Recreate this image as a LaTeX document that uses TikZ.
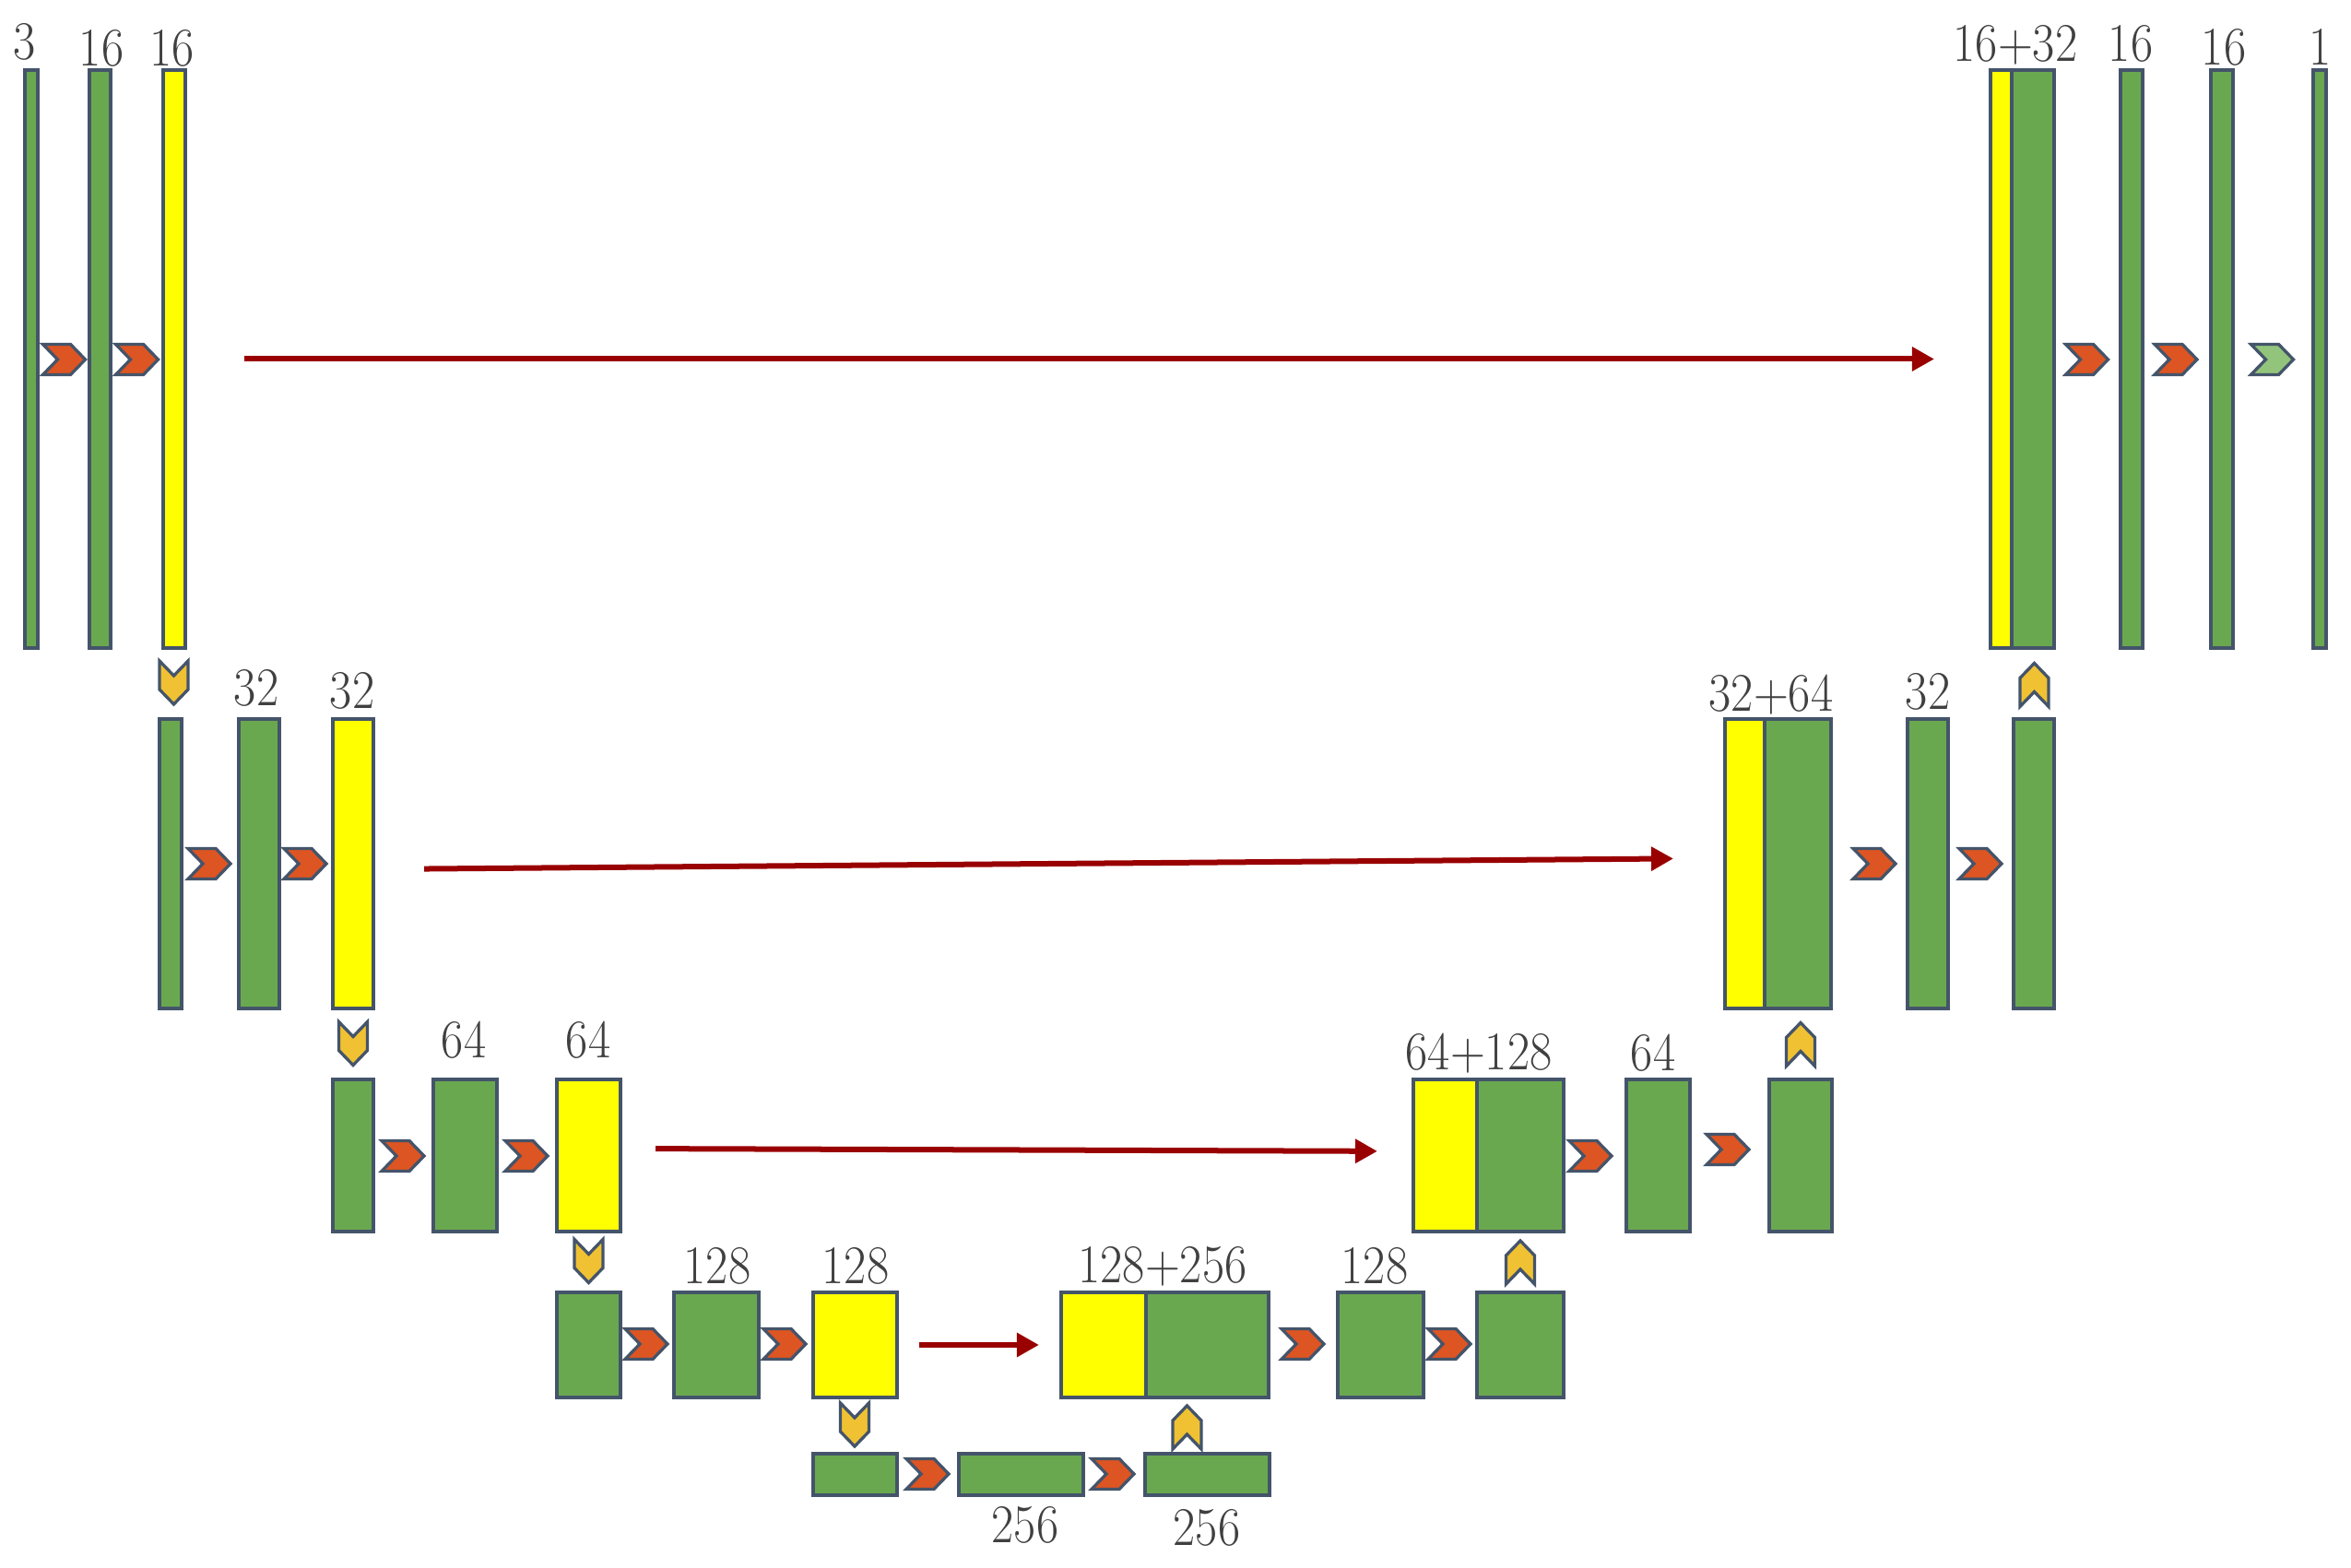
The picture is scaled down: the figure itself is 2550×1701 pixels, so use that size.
\documentclass[tikz,border=0pt]{standalone}
\usetikzlibrary{arrows.meta}
\definecolor{bargreen}{HTML}{6AA84F}
\definecolor{baryellow}{HTML}{FFFF00}
\definecolor{edgecol}{HTML}{44546A}
\definecolor{convorange}{HTML}{DD5522}
\definecolor{poolgold}{HTML}{F0C132}
\definecolor{outgreen}{HTML}{92C47C}
\definecolor{skipred}{HTML}{990000}
\definecolor{txtcol}{HTML}{404040}
\tikzset{
  barbox/.style={draw=edgecol, line width=0.033cm, inner sep=0pt, outer sep=0pt, rectangle},
  gbar/.style={barbox, fill=bargreen},
  ybar/.style={barbox, fill=baryellow},
  skiparrow/.style={draw=skipred, line width=0.06cm, -{Triangle[length=0.24cm,width=0.25cm]}},
  lbl/.style={text=txtcol, inner sep=0pt, anchor=base, font=\fontsize{16.8}{20}\selectfont},
  chev/.style={draw=edgecol, line width=0.033cm, line join=miter},
  chevR/.pic={\path[chev,pic actions] (-23,-16.5) -- (7,-16.5) -- (23,0) -- (7,16.5) -- (-23,16.5) -- (-7,0) -- cycle;},
  chevD/.pic={\path[chev,pic actions] (-15.5,-23.5) -- (0,-7.5) -- (15.5,-23.5) -- (15.5,7.5) -- (0,23.5) -- (-15.5,7.5) -- cycle;},
  chevU/.pic={\path[chev,pic actions] (-15.5,23.5) -- (0,7.5) -- (15.5,23.5) -- (15.5,-7.5) -- (0,-23.5) -- (-15.5,-7.5) -- cycle;},
}
\newcommand\blk[6]{\node[#6, minimum width={0.01cm*(#4-#2)}, minimum height={0.01cm*(#5-#3)}] (#1) at ({(#2+#4)/2},{(#3+#5)/2}) {};}
\newcommand\lab[4]{\node[lbl] (#1) at (#2,#3) {\scalebox{0.89}[1]{#4}};}
\begin{document}
\begin{tikzpicture}[x=0.01cm,y=-0.01cm]
\useasboundingbox (0,0) rectangle (2550,1701);
% ---------- row 1 ----------
\blk{A1}{27}{76}{41}{703}{gbar}
\blk{A2}{97}{76}{120}{703}{gbar}
\blk{A3}{177}{76}{201}{703}{ybar}
\blk{Ly}{2159}{76}{2182}{703}{ybar}
\blk{Lg}{2182}{76}{2228}{703}{gbar}
\blk{M1}{2300}{76}{2324}{703}{gbar}
\blk{M2}{2398}{76}{2422}{703}{gbar}
\blk{M3}{2509}{76}{2523}{703}{gbar}
% ---------- row 2 ----------
\blk{B1}{173}{780}{197}{1094}{gbar}
\blk{B2}{259}{780}{303}{1094}{gbar}
\blk{B3}{361}{780}{405}{1094}{ybar}
\blk{Jy}{1871}{780}{1914}{1094}{ybar}
\blk{Jg}{1914}{780}{1986}{1094}{gbar}
\blk{K1}{2069}{780}{2113}{1094}{gbar}
\blk{K2}{2184}{780}{2228}{1094}{gbar}
% ---------- row 3 ----------
\blk{C1}{361}{1171}{405}{1336}{gbar}
\blk{C2}{470}{1171}{539}{1336}{gbar}
\blk{C3}{604}{1171}{673}{1336}{ybar}
\blk{Hy}{1533}{1171}{1602}{1336}{ybar}
\blk{Hg}{1602}{1171}{1696}{1336}{gbar}
\blk{I1}{1764}{1171}{1833}{1336}{gbar}
\blk{I2}{1919}{1171}{1987}{1336}{gbar}
% ---------- row 4 ----------
\blk{D1}{604}{1402}{673}{1516}{gbar}
\blk{D2}{731}{1402}{823}{1516}{gbar}
\blk{D3}{882}{1402}{973}{1516}{ybar}
\blk{Fy}{1151}{1402}{1243}{1516}{ybar}
\blk{Fg}{1243}{1402}{1376}{1516}{gbar}
\blk{G1}{1451}{1402}{1544}{1516}{gbar}
\blk{G2}{1602}{1402}{1696}{1516}{gbar}
% ---------- row 5 ----------
\blk{E1}{882}{1577}{973}{1622}{gbar}
\blk{E2}{1040}{1577}{1175}{1622}{gbar}
\blk{E3}{1242}{1577}{1377}{1622}{gbar}
% ---------- conv chevrons ----------
\pic[fill=convorange] at (69.5,390) {chevR};
\pic[fill=convorange] at (148.5,390) {chevR};
\pic[fill=convorange] at (2263.5,390) {chevR};
\pic[fill=convorange] at (2360,390) {chevR};
\pic[fill=outgreen] at (2464.5,390) {chevR};
\pic[fill=convorange] at (227,937) {chevR};
\pic[fill=convorange] at (331,937) {chevR};
\pic[fill=convorange] at (2033,937) {chevR};
\pic[fill=convorange] at (2148,937) {chevR};
\pic[fill=convorange] at (437,1254) {chevR};
\pic[fill=convorange] at (571,1254) {chevR};
\pic[fill=convorange] at (1725,1254) {chevR};
\pic[fill=convorange] at (1874,1247) {chevR};
\pic[fill=convorange] at (701,1458) {chevR};
\pic[fill=convorange] at (851,1458) {chevR};
\pic[fill=convorange] at (1413,1458) {chevR};
\pic[fill=convorange] at (1572,1458) {chevR};
\pic[fill=convorange] at (1006,1599) {chevR};
\pic[fill=convorange] at (1207,1599) {chevR};
% ---------- pooling / upsampling chevrons ----------
\pic[fill=poolgold] at (188.5,740.5) {chevD};
\pic[fill=poolgold] at (383,1132) {chevD};
\pic[fill=poolgold] at (638.5,1368) {chevD};
\pic[fill=poolgold] at (927,1545.5) {chevD};
\pic[fill=poolgold] at (1287.5,1548.5) {chevU};
\pic[fill=poolgold] at (1649,1369.5) {chevU};
\pic[fill=poolgold] at (1953,1133) {chevU};
\pic[fill=poolgold] at (2206.5,743) {chevU};
% ---------- skip connections ----------
\draw[skiparrow, shorten <=0.64cm, shorten >=0.61cm] (A3.east) -- (Ly.west);
\draw[skiparrow, shorten <=0.55cm, shorten >=0.56cm] ([yshift=-0.06cm]B3.east) -- ([yshift=0.06cm]Jy.west);
\draw[skiparrow, shorten <=0.38cm, shorten >=0.39cm] ([yshift=0.075cm]C3.east) -- ([yshift=0.045cm]Hy.west);
\draw[skiparrow, shorten <=0.24cm, shorten >=0.24cm] (D3.east) -- (Fy.west);
% ---------- labels ----------
\lab{t1}{27}{65}{3}
\lab{t2}{110}{72}{16}
\lab{t3}{187}{72}{16}
\lab{t4}{2186}{67}{16+32}
\lab{t5}{2311}{67}{16}
\lab{t6}{2412}{71}{16}
\lab{t7}{2517}{71}{1}
\lab{t8}{278}{766}{32}
\lab{t9}{382}{769}{32}
\lab{t10}{1921}{772}{32+64}
\lab{t11}{2091}{770}{32}
\lab{t12}{503}{1148}{64}
\lab{t13}{638}{1148}{64}
\lab{t14}{1604}{1161}{64+128}
\lab{t15}{1793}{1162}{64}
\lab{t16}{778}{1393}{128}
\lab{t17}{928}{1393}{128}
\lab{t18}{1261}{1392}{128+256}
\lab{t19}{1491}{1393}{128}
\lab{t20}{1112}{1674}{256}
\lab{t21}{1309}{1677}{256}
\end{tikzpicture}
\end{document}
